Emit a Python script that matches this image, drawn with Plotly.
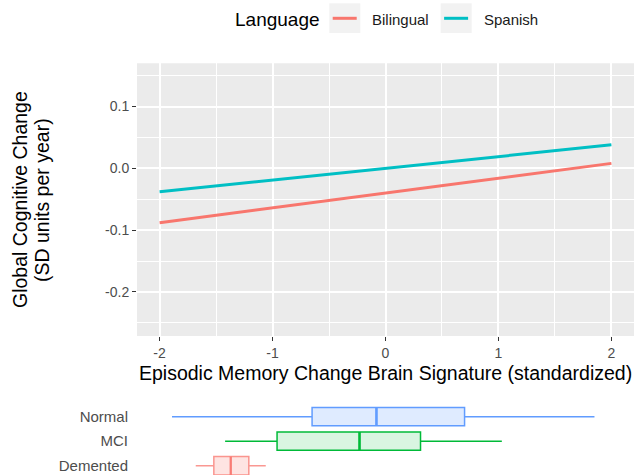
import plotly.graph_objects as go

W, H = 635, 475

# ---- data ----
languages = ["Bilingual", "Spanish"]
signature_x = [-2, 2]
bilingual_change = [-0.088, 0.008]
spanish_change = [-0.038, 0.038]
language_colors = ["#F8766D", "#00BFC4"]

x_tickvals = [-2, -1, 0, 1, 2]
x_ticktext = ["-2", "-1", "0", "1", "2"]
y_tickvals = [-0.2, -0.1, 0.0, 0.1]
y_ticktext = ["-0.2", "-0.1", "0.0", "0.1"]

groups = ["Normal", "MCI", "Demented"]
grp_low = [-1.89, -1.42, -1.68]
grp_q1 = [-0.65, -0.96, -1.52]
grp_med = [-0.08, -0.23, -1.37]
grp_q3 = [0.70, 0.31, -1.21]
grp_high = [1.85, 1.03, -1.06]
grp_line = ["#619CFF", "#00BA38", "rgba(248,118,109,0.75)"]
grp_fill = ["rgba(97,156,255,0.2)", "rgba(0,186,56,0.15)", "rgba(248,118,109,0.2)"]

FONT = "Liberation Sans, Arial, Helvetica, sans-serif"


def px(x):
    return x / W


def py(y):
    return 1 - y / H


fig = go.Figure()

series = [bilingual_change, spanish_change]
for name, vals, col in zip(languages, series, language_colors):
    fig.add_trace(go.Scatter(x=signature_x, y=vals, mode="lines", name=name,
                             line=dict(color=col, width=3), showlegend=False,
                             xaxis="x", yaxis="y"))

# boxplots (horizontal), categories at numeric positions
n = len(groups)
box_w = 0.75
for i, g in enumerate(groups):
    pos = n - 1 - i
    fig.add_trace(go.Box(y=[pos], q1=[grp_q1[i]], median=[grp_med[i]], q3=[grp_q3[i]],
                         lowerfence=[grp_low[i]], upperfence=[grp_high[i]],
                         orientation="h", width=box_w, whiskerwidth=0,
                         line=dict(color=grp_line[i], width=1.5), fillcolor=grp_fill[i],
                         boxpoints=False, showlegend=False, name=g,
                         xaxis="x2", yaxis="y2", hoverinfo="skip"))
    fig.add_trace(go.Scatter(x=[grp_med[i], grp_med[i]], y=[pos - box_w / 2, pos + box_w / 2],
                             mode="lines", line=dict(color=grp_line[i], width=2.5),
                             showlegend=False, xaxis="x2", yaxis="y2", hoverinfo="skip"))

x_dom = [px(137), px(634)]
fig.update_layout(
    width=W, height=H,
    margin=dict(l=0, r=0, t=0, b=0),
    paper_bgcolor="white", plot_bgcolor="white",
    font=dict(family=FONT, color="#4D4D4D"),
    xaxis=dict(domain=x_dom, range=[-2.2, 2.2], anchor="y",
               tickmode="array", tickvals=x_tickvals, ticktext=x_ticktext,
               ticks="outside", ticklen=4, tickwidth=1, tickcolor="#333333",
               tickfont=dict(size=14, color="#4D4D4D"),
               showgrid=True, gridcolor="white", gridwidth=1.6, zeroline=False,
               showline=False,
               minor=dict(tickmode="linear", tick0=0, dtick=0.5, showgrid=True,
                          gridcolor="white", gridwidth=0.8, ticks="")),
    yaxis=dict(domain=[py(336), py(63.3)], range=[-0.2714, 0.170], anchor="x",
               tickmode="array", tickvals=y_tickvals, ticktext=y_ticktext,
               ticks="outside", ticklen=4, tickwidth=1, tickcolor="#333333",
               tickfont=dict(size=14, color="#4D4D4D"),
               showgrid=True, gridcolor="white", gridwidth=1.6, zeroline=False,
               showline=False,
               minor=dict(tickmode="linear", tick0=0, dtick=0.05, showgrid=True,
                          gridcolor="white", gridwidth=0.8, ticks="")),
    xaxis2=dict(domain=x_dom, range=[-2.2, 2.2], anchor="y2", visible=False),
    yaxis2=dict(domain=[0, 70.6 / H], range=[-0.38, 2.5], anchor="x2",
                tickmode="array", tickvals=[n - 1 - i for i in range(n)], ticktext=groups,
                showgrid=False, zeroline=False, showline=False, ticks="",
                ticklabelstandoff=8,
                tickfont=dict(size=15, color="#4D4D4D")),
)

shapes = [
    dict(type="rect", xref="x domain", yref="y domain", x0=0, x1=1, y0=0, y1=1,
         fillcolor="#EBEBEB", line=dict(width=0), layer="below"),
]

annotations = []
# axis titles
annotations.append(dict(x=px(385.5), y=py(372.5), xref="paper", yref="paper",
                        text="Episodic Memory Change Brain Signature (standardized)",
                        showarrow=False, xanchor="center", yanchor="middle",
                        font=dict(size=19.5, color="#000000", family=FONT)))
annotations.append(dict(x=px(20), y=py(200), xref="paper", yref="paper",
                        text="Global Cognitive Change", textangle=-90,
                        showarrow=False, xanchor="center", yanchor="middle",
                        font=dict(size=19.5, color="#000000", family=FONT)))
annotations.append(dict(x=px(42), y=py(200), xref="paper", yref="paper",
                        text="(SD units per year)", textangle=-90,
                        showarrow=False, xanchor="center", yanchor="middle",
                        font=dict(size=19.5, color="#000000", family=FONT)))

# legend (drawn manually, ggplot-style)
annotations.append(dict(x=px(233), y=py(19), xref="paper", yref="paper",
                        text="Language", showarrow=False, xanchor="left", yanchor="middle",
                        font=dict(size=19, color="#000000", family=FONT)))
key_x = [329.3, 440.7]
for name, col, kx in zip(languages, language_colors, key_x):
    shapes.append(dict(type="rect", xref="paper", yref="paper",
                       x0=px(kx), x1=px(kx + 31), y0=py(33), y1=py(3.3),
                       fillcolor="#F2F2F2", line=dict(width=0)))
    shapes.append(dict(type="line", xref="paper", yref="paper",
                       x0=px(kx + 3.4), x1=px(kx + 27.4), y0=py(18.3), y1=py(18.3),
                       line=dict(color=col, width=3)))
    annotations.append(dict(x=px(kx + 41), y=py(19), xref="paper", yref="paper",
                            text=name, showarrow=False, xanchor="left", yanchor="middle",
                            font=dict(size=15, color="#1A1A1A", family=FONT)))

fig.update_layout(shapes=shapes, annotations=annotations)

fig.write_html("out.html",
               config={"displayModeBar": False},
               post_script="document.body.style.margin='0';document.body.style.overflow='hidden';")
